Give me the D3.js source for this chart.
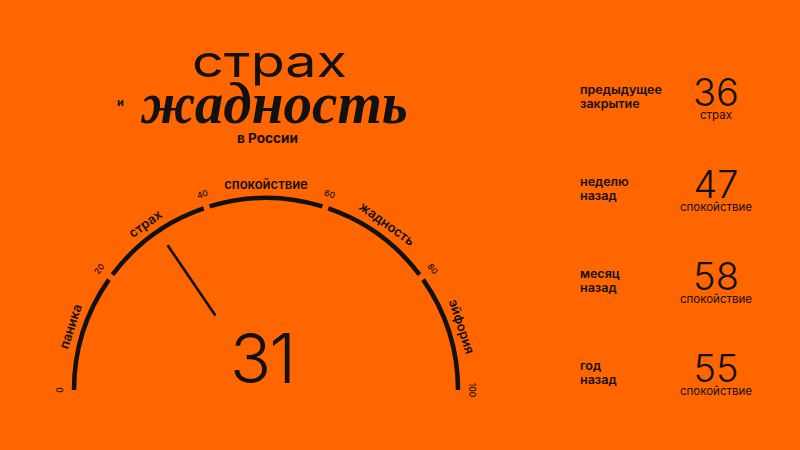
<!DOCTYPE html>
<html>
<head>
<meta charset="utf-8">
<script src="https://cdn.jsdelivr.net/npm/d3@7"></script>
<style>
  html, body { margin: 0; padding: 0; background: #ff6600; }
  svg { display: block; }
</style>
</head>
<body>
<div id="chart"></div>
<script>
  /**************************************************
   * Data                                           *
   **************************************************/

  var zoneNames = ['паника', 'страх', 'спокойствие', 'жадность', 'эйфория'];
  var zoneBounds = [0, 20, 40, 60, 80, 100];
  var tickLabels = ['0', '20', '40', '60', '80', '100'];
  var currentValue = 31;

  var historyLabels = [['предыдущее', 'закрытие'], ['неделю', 'назад'], ['месяц', 'назад'], ['год', 'назад']];
  var historyValues = [36, 47, 58, 55];
  var historyZones = ['страх', 'спокойствие', 'спокойствие', 'спокойствие'];

  /**************************************************
   * Setup                                          *
   **************************************************/

  var width = 800,
    height = 450,
    ink = '#111',
    sans = 'Inter, "Liberation Sans", sans-serif';

  var gauge = { cx: 266, cy: 390, r: 192, stroke: 4.5, gap: 0.032 };

  var svg = d3.select('#chart').append('svg')
    .attr('width', width)
    .attr('height', height);

  svg.append('rect')
    .attr('width', width)
    .attr('height', height)
    .attr('fill', '#ff6600');

  // value -> angle, clockwise from 12 o'clock
  var angle = d3.scaleLinear().domain([0, 100]).range([-Math.PI / 2, Math.PI / 2]);

  function polar(v, r) {
    var a = angle(v);
    return [gauge.cx + r * Math.sin(a), gauge.cy - r * Math.cos(a)];
  }

  function deg(v) {
    return angle(v) * 180 / Math.PI;
  }

  /**************************************************
   * Title                                          *
   **************************************************/

  var title = svg.append('g').attr('fill', ink);

  title.append('text')
    .attr('x', 192).attr('y', 77)
    .attr('textLength', 155).attr('lengthAdjust', 'spacingAndGlyphs')
    .style('font-family', sans).style('font-weight', 400).style('font-size', '44px')
    .text('страх');

  title.append('text')
    .attr('x', 141).attr('y', 123)
    .attr('textLength', 267).attr('lengthAdjust', 'spacingAndGlyphs')
    .style('font-family', '"Liberation Serif", "DejaVu Serif", serif')
    .style('font-style', 'italic').style('font-weight', 700).style('font-size', '60px')
    .text('жадность');

  title.append('text')
    .attr('x', 117).attr('y', 106)
    .style('font-family', sans).style('font-weight', 700).style('font-size', '11px')
    .text('и');

  title.append('text')
    .attr('x', 237).attr('y', 143)
    .attr('textLength', 61).attr('lengthAdjust', 'spacingAndGlyphs')
    .style('font-family', sans).style('font-weight', 700).style('font-size', '13px')
    .text('в России');

  /**************************************************
   * Gauge                                          *
   **************************************************/

  var arc = d3.arc()
    .innerRadius(gauge.r - gauge.stroke / 2)
    .outerRadius(gauge.r + gauge.stroke / 2);

  var zones = zoneNames.map(function(name, i) {
    return { name: name, lo: zoneBounds[i], hi: zoneBounds[i + 1] };
  });

  var gaugeG = svg.append('g').attr('transform', 'translate(' + gauge.cx + ',' + gauge.cy + ')');

  gaugeG.selectAll('path.zone')
    .data(zones)
    .enter().append('path')
    .attr('class', 'zone')
    .attr('fill', ink)
    .attr('d', function(d) {
      return arc({
        startAngle: angle(d.lo) + (d.lo > 0 ? gauge.gap / 2 : 0),
        endAngle: angle(d.hi) - (d.hi < 100 ? gauge.gap / 2 : 0)
      });
    });

  // zone names
  svg.selectAll('text.zone')
    .data(zones)
    .enter().append('text')
    .attr('class', 'zone')
    .attr('transform', function(d) {
      var m = (d.lo + d.hi) / 2,
        p = polar(m, 201);
      return 'translate(' + p[0] + ',' + p[1] + ') rotate(' + deg(m) + ')';
    })
    .attr('text-anchor', 'middle')
    .attr('fill', ink)
    .style('font-family', sans).style('font-weight', 600).style('font-size', '13px')
    .text(function(d) { return d.name; });

  // tick numbers
  svg.selectAll('text.tick')
    .data(zoneBounds)
    .enter().append('text')
    .attr('class', 'tick')
    .attr('transform', function(d) {
      var p = polar(d, 203);
      return 'translate(' + p[0] + ',' + p[1] + ') rotate(' + deg(d) + ')';
    })
    .attr('text-anchor', 'middle')
    .attr('fill', ink)
    .style('font-family', sans).style('font-weight', 500).style('font-size', '8.5px')
    .text(function(d, i) { return tickLabels[i]; });

  // needle
  var n0 = polar(currentValue, 90),
    n1 = polar(currentValue, 175);
  svg.append('line')
    .attr('x1', n0[0]).attr('y1', n0[1])
    .attr('x2', n1[0]).attr('y2', n1[1])
    .attr('stroke', ink)
    .attr('stroke-width', 2.6);

  svg.append('text')
    .attr('x', 262).attr('y', 383)
    .attr('text-anchor', 'middle')
    .attr('fill', ink)
    .style('font-family', sans).style('font-weight', 300).style('font-size', '68px')
    .style('letter-spacing', '-2px')
    .text(currentValue);

  /**************************************************
   * History panel                                  *
   **************************************************/

  var rowY = d3.scalePoint().domain(d3.range(historyValues.length)).range([106, 382]);

  var rows = svg.selectAll('g.row')
    .data(historyValues)
    .enter().append('g')
    .attr('class', 'row')
    .attr('transform', function(d, i) { return 'translate(0,' + rowY(i) + ')'; })
    .attr('fill', ink);

  rows.each(function(d, i) {
    var g = d3.select(this);
    var label = g.append('text')
      .style('font-family', sans).style('font-weight', 600).style('font-size', '12.5px');
    historyLabels[i].forEach(function(line, j) {
      label.append('tspan').attr('x', 580).attr('y', -12 + j * 13.5).text(line);
    });
  });

  rows.append('text')
    .attr('x', 716).attr('y', 0)
    .attr('text-anchor', 'middle')
    .style('font-family', sans).style('font-weight', 300).style('font-size', '38px')
    .text(function(d) { return d; });

  rows.append('text')
    .attr('x', 716).attr('y', 13)
    .attr('text-anchor', 'middle')
    .style('font-family', sans).style('font-weight', 400).style('font-size', '11.5px')
    .text(function(d, i) { return historyZones[i]; });
</script>
</body>
</html>
